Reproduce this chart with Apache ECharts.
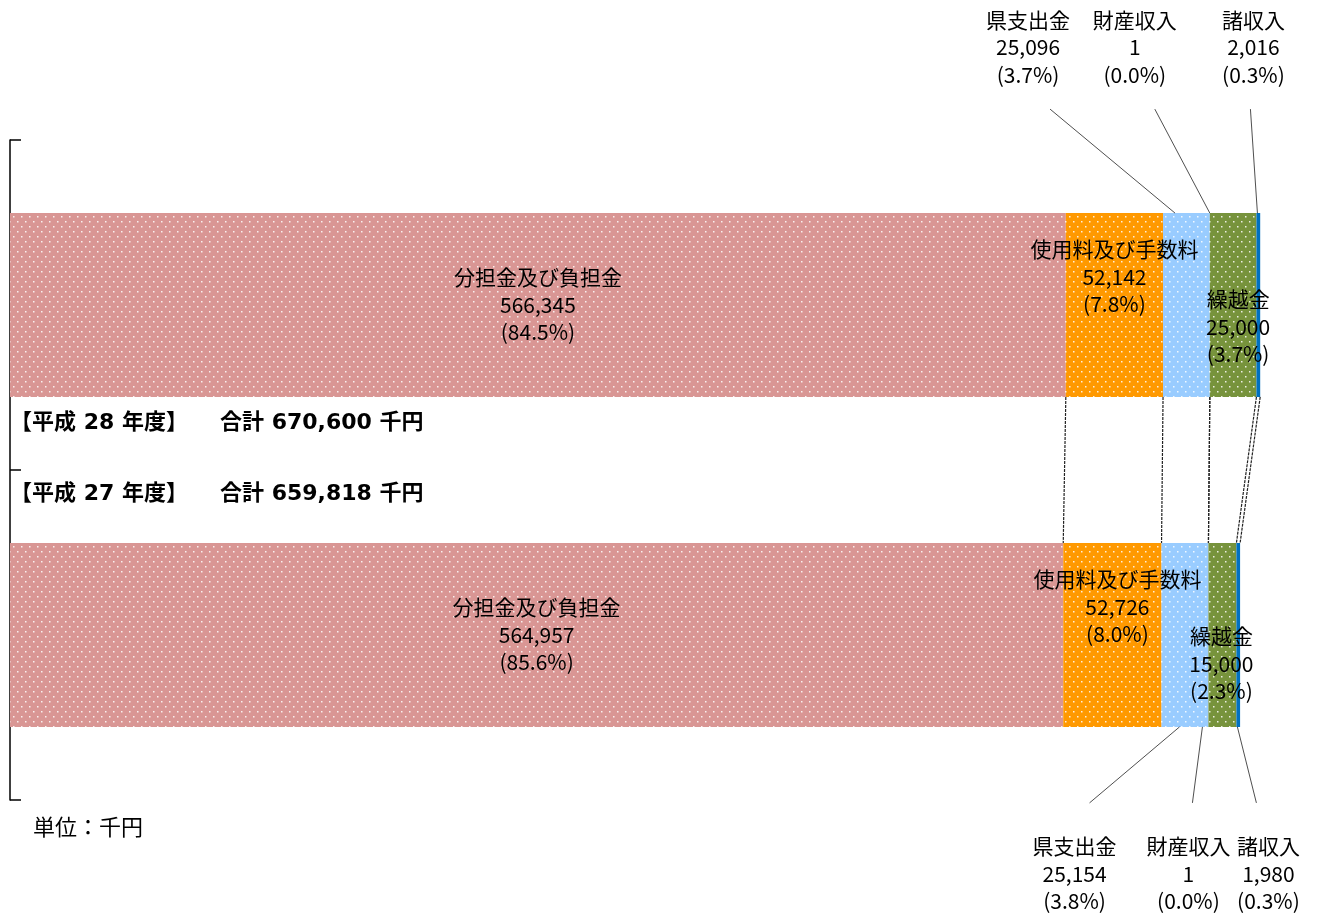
<!DOCTYPE html>
<html>
<head>
<meta charset="utf-8">
<script src="https://cdn.jsdelivr.net/npm/echarts@6/dist/echarts.min.js"></script>
<style>
  html, body { margin: 0; padding: 0; background: #fff; }
  #chart { width: 1318px; height: 914px; }
</style>
</head>
<body>
<div id="chart"></div>
<script>
// ---------------- data ----------------
const categories = ['平成27年度', '平成28年度'];
const yearLabels = ['【平成 27 年度】', '【平成 28 年度】'];
const seriesNames = ['分担金及び負担金', '使用料及び手数料', '県支出金', '財産収入', '繰越金', '諸収入'];
const valuesH27 = [564957, 52726, 25154, 1, 15000, 1980];
const valuesH28 = [566345, 52142, 25096, 1, 25000, 2016];
const unitText = '単位：千円';

// ---------------- styles / layout ----------------
const valuesByCat = [valuesH27, valuesH28];
const totals = valuesByCat.map(a => a.reduce((s, v) => s + v, 0));
const seriesColors = ['#D99694', '#FF9900', '#99CCFF', '#C0504D', '#77933C', '#0070C0'];
const dotted = [true, true, true, false, true, false];
const barRatio = 0.557;
const FONT = '"Noto Sans CJK JP", sans-serif';
const LABEL_SIZE = 21;
const LINE_H = 27.5;

// inside label offsets [dx, dy] per series per category
const insideOffsets = {
  0: [[0, 0], [0, 0]],
  1: [[5, -28], [0, -28]],
  4: [[-1, 29], [5, 22]]
};
// outside labels: anchor = px from segment start, sx = leader start rel. to anchor, tx = text center x rel. to anchor
const outsideLayout = [
  { // 平成27 (below bar)
    2: { anchor: 18, sx: -90, tx: -105 },
    3: { anchor: -6, sx: -10, tx: -14 },
    5: { anchor: 1, sx: 19, tx: 31 },
    leaderLen: 76, textDy: 147
  },
  { // 平成28 (above bar)
    2: { anchor: 12, sx: -125, tx: -147 },
    3: { anchor: 0, sx: -55, tx: -75 },
    5: { anchor: 1, sx: -7, tx: -4 },
    leaderLen: 104, textDy: 166
  }
];

function fmt(v) { return v.toLocaleString('en-US'); }
function pct(v, cat) { return (v / totals[cat] * 100).toFixed(1); }

function makePattern(color, dots) {
  const c = document.createElement('canvas');
  c.width = 8; c.height = 10;
  const ctx = c.getContext('2d');
  ctx.fillStyle = color;
  ctx.fillRect(0, 0, 8, 10);
  if (dots) {
    ctx.fillStyle = 'rgba(255,255,255,0.85)';
    ctx.fillRect(1, 1, 1.5, 1.5);
    ctx.fillRect(5, 6, 1.5, 1.5);
  }
  return c;
}

const barSeries = seriesNames.map((name, si) => {
  const hasLabel = insideOffsets[si] !== undefined;
  return {
    name: name,
    type: 'bar',
    stack: 'total',
    barWidth: (barRatio * 100) + '%',
    silent: true,
    itemStyle: { color: { image: makePattern(seriesColors[si], dotted[si]), repeat: 'repeat' } },
    label: {
      show: hasLabel,
      position: 'inside',
      color: '#000',
      fontFamily: FONT,
      fontSize: LABEL_SIZE,
      lineHeight: LINE_H,
      overflow: 'none',
      formatter: p => name + '\n' + fmt(p.value) + '\n(' + pct(p.value, p.dataIndex) + '%)'
    },
    data: valuesByCat.map((arr, ci) => ({
      value: arr[si],
      label: hasLabel ? { offset: insideOffsets[si][ci] } : undefined
    }))
  };
});

const overlaySeries = {
  type: 'custom',
  coordinateSystem: 'cartesian2d',
  silent: true,
  z: 10,
  encode: { x: 0, y: 1 },
  data: [[0, 0], [0, 1]],
  renderItem: function (params, api) {
    const cat = api.value(1);
    const vals = valuesByCat[cat];
    const c = api.coord([0, cat]);
    const band = api.size([0, 1])[1];
    const h = band * barRatio;
    const top = c[1] - h / 2, bottom = c[1] + h / 2;
    const children = [];
    const cum = [];
    let s = 0;
    vals.forEach(v => { cum.push(s); s += v; });

    // outside labels and leader lines
    const lay = outsideLayout[cat];
    const above = cat === 1;
    [2, 3, 5].forEach(si => {
      const L = lay[si];
      const segX = api.coord([cum[si], cat])[0];
      const ax = segX + L.anchor;
      const edgeY = above ? top : bottom;
      const sy = above ? edgeY - lay.leaderLen : edgeY + lay.leaderLen;
      children.push({
        type: 'line',
        shape: { x1: ax + L.sx, y1: sy, x2: ax, y2: edgeY },
        style: { stroke: '#222', lineWidth: 0.8 }
      });
      const v = vals[si];
      children.push({
        type: 'text',
        style: {
          text: seriesNames[si] + '\n' + fmt(v) + '\n(' + pct(v, cat) + '%)',
          x: ax + L.tx,
          y: above ? edgeY - lay.textDy : edgeY + lay.textDy,
          align: 'center',
          verticalAlign: 'middle',
          fontFamily: FONT,
          fontSize: LABEL_SIZE,
          lineHeight: LINE_H,
          fill: '#000'
        }
      });
    });

    // year headings
    const gx = api.coord([0, cat])[0];
    const hy = above ? bottom + 26 : top - 49;
    const headFont = { fontFamily: '"DejaVu Sans", "Noto Sans CJK JP", sans-serif', fontSize: 22, fontWeight: 'bold', fill: '#000' };
    children.push({ type: 'text', style: Object.assign({ text: yearLabels[cat], x: gx, y: hy, verticalAlign: 'middle', align: 'left' }, headFont) });
    children.push({ type: 'text', style: Object.assign({ text: '合計 ' + fmt(totals[cat]) + ' 千円', x: gx + 210, y: hy, verticalAlign: 'middle', align: 'left' }, headFont) });

    // series (connector) lines, drawn once from the upper bar
    if (cat === 1) {
      const c0 = api.coord([0, 0]);
      const top0 = c0[1] - h / 2;
      const cumTop = [], cumBot = [];
      let a = 0, b = 0;
      for (let i = 0; i < vals.length; i++) {
        a += valuesByCat[1][i]; b += valuesByCat[0][i];
        cumTop.push(a); cumBot.push(b);
      }
      for (let i = 0; i < cumTop.length; i++) {
        const x1 = api.coord([cumTop[i], 1])[0];
        const x2 = api.coord([cumBot[i], 0])[0];
        children.push({
          type: 'line',
          shape: { x1: x1, y1: bottom, x2: x2, y2: top0 },
          style: { stroke: '#222', lineWidth: 1.2, lineDash: [3, 1] }
        });
      }
    }
    return { type: 'group', children: children };
  }
};

const chart = echarts.init(document.getElementById('chart'));
chart.setOption({
  animation: false,
  backgroundColor: '#fff',
  title: {
    text: unitText,
    left: 33, top: 816, padding: 0,
    textStyle: { fontFamily: FONT, fontSize: 22, fontWeight: 'normal', color: '#000' }
  },
  grid: { left: 10, right: 3, top: 140, bottom: 114, containLabel: false },
  xAxis: {
    type: 'value', min: 0, max: 700000,
    show: false
  },
  yAxis: {
    type: 'category',
    data: categories,
    axisLine: { show: true, lineStyle: { color: '#000', width: 1.5 } },
    axisTick: { show: true, inside: true, length: 11, alignWithLabel: false, interval: 0, lineStyle: { color: '#000', width: 1.5 } },
    axisLabel: { show: false },
    splitLine: { show: false }
  },
  series: barSeries.concat([overlaySeries])
});
</script>
</body>
</html>
